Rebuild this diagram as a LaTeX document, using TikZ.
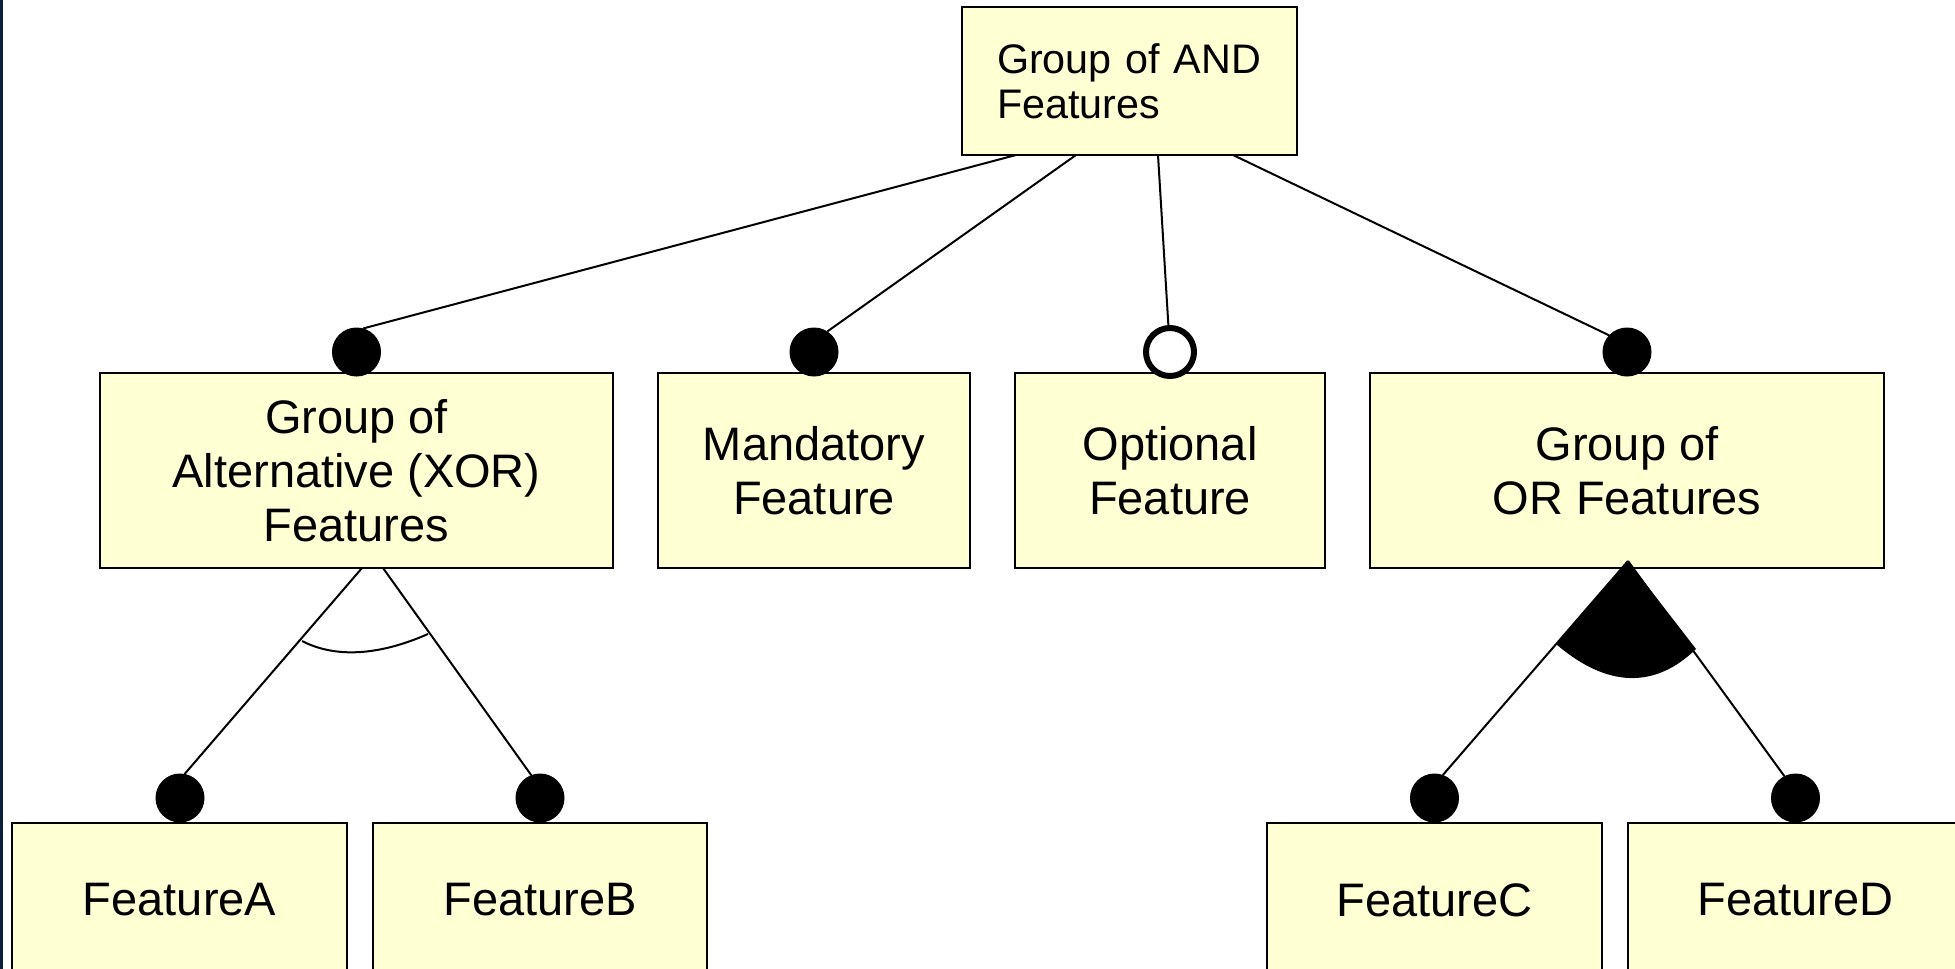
\documentclass[tikz,border=0pt]{standalone}
\usepackage{fontspec}
\setmainfont{Liberation Sans}
\definecolor{featfill}{HTML}{FFFFD4}
\definecolor{edgenavy}{HTML}{0B1F3A}
\begin{document}
\begin{tikzpicture}[x=1pt,y=-1pt,
  featbox/.style={draw=black, line width=2pt, fill=featfill, rectangle, inner sep=0pt, align=center, font=\fontsize{47}{54}\selectfont},
  mandc/.style={circle, fill=black, draw=black, line width=1pt, minimum size=48pt, inner sep=0pt},
  optc/.style={circle, fill=white, draw=black, line width=6pt, minimum size=48pt, inner sep=0pt},
  conn/.style={draw=black, line width=2pt},
  groupmark/.style={draw=black, line width=2pt}]
\useasboundingbox (0,0) rectangle (1955,969);
\clip (0,0) rectangle (1955,969);
\fill[white] (0,0) rectangle (1955,969);
\draw[edgenavy, line width=3pt] (1.5,0) -- (1.5,969);

% boxes
\node[featbox, minimum width=335pt, minimum height=148pt, inner xsep=35pt, text width=265pt, align=left, font=\fontsize{41.3}{45}\selectfont] (andg) at (1129.5,81) {Group of AND\\Features};
\node[featbox, minimum width=513pt, minimum height=195pt] (xorg) at (356.5,470.5) {Group of\\Alternative (XOR)\\Features};
\node[featbox, minimum width=312pt, minimum height=195pt] (mand) at (814,470.5) {Mandatory\\Feature};
\node[featbox, minimum width=310pt, minimum height=195pt] (opt) at (1170,470.5) {Optional\\Feature};
\node[featbox, minimum width=514pt, minimum height=195pt] (org) at (1627,470.5) {Group of\\OR Features};
\node[featbox, minimum width=335pt, minimum height=154pt] (fa) at (179.5,900) {FeatureA};
\node[featbox, minimum width=334pt, minimum height=154pt] (fb) at (540,900) {FeatureB};
\node[featbox, minimum width=335pt, minimum height=154pt] (fc) at (1434.5,900) {FeatureC};
\node[featbox, minimum width=335pt, minimum height=154pt] (fd) at (1795.5,900) {FeatureD};

% circles
\node[mandc] (cx) at (356.5,352) {};
\node[mandc] (cm) at (814,352) {};
\node[optc] (co) at (1170,352) {};
\node[mandc] (cor) at (1627,352) {};
\node[mandc] (ca) at (180,798) {};
\node[mandc] (cb) at (540,798) {};
\node[mandc] (cc) at (1434.5,798) {};
\node[mandc] (cd) at (1795.5,798) {};

% connector anchors
\coordinate (a1) at (1016,155);
\coordinate (a2) at (1076,155);
\coordinate (a3) at (1158,155);
\coordinate (a4) at (1233,155);
\coordinate (x1) at (362,568);
\coordinate (x2) at (383,568);
\coordinate (orapex) at (1628,561);

% connectors
\draw[conn] (a1) -- (cx.74);
\draw[conn] (a2) -- (cm.57);
\draw[conn] (a3) -- (co);
\draw[conn] (a4) -- (cor.137);
\draw[conn] (x1) -- (ca.79);
\draw[conn] (x2) -- (cb.111);
\draw[conn] (orapex) -- (cc.70);
\draw[conn] (orapex) -- (cd.117);

% XOR arc
\draw[groupmark] (302,641) .. controls (335,658) and (378,656) .. (428,634);
% OR sector
\fill[black] (orapex) -- (1556,644) .. controls (1607,688) and (1655,689) .. (1696,649) -- cycle;
\end{tikzpicture}
\end{document}
